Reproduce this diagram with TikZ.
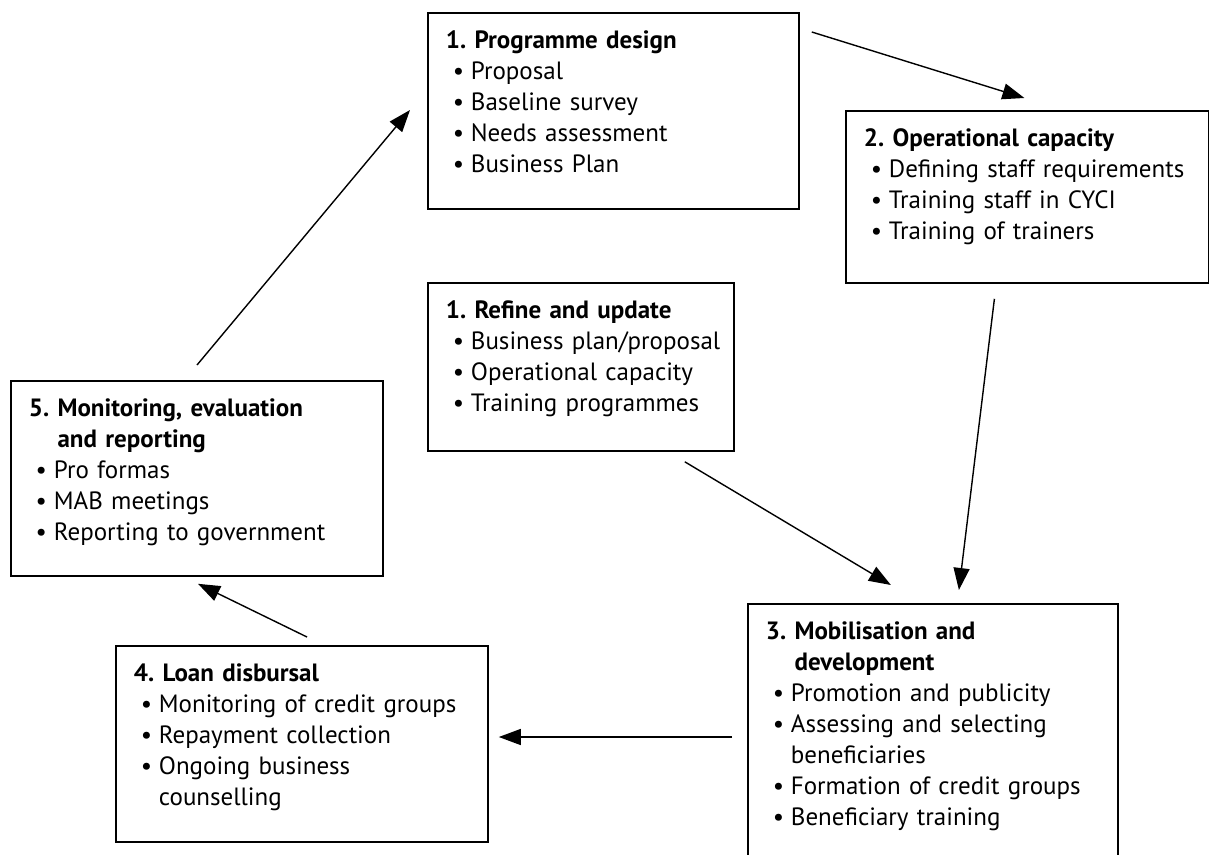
\documentclass[tikz,border=0pt]{standalone}
\usepackage{fontspec}
\setmainfont{PT Sans}
\usetikzlibrary{arrows.meta,calc}

\newcommand{\itm}[1]{\mbox{\makebox[25pt][c]{\textbullet}#1}}
\newcommand{\cont}[1]{\mbox{\hspace*{25pt}#1}}

\begin{document}
\begin{tikzpicture}[x=1pt,y=-1pt,
  box/.style={draw, line width=1.8pt, anchor=north west, align=left,
    inner xsep=18pt, inner ysep=0pt, text height=36pt,
    font=\fontsize{25}{31}\selectfont},
  flow/.style={line width=1.4pt, -{Triangle[length=22pt,width=16pt]}}]

\clip (0,0) rectangle (1209,854);

\node[box, text width=335pt, text depth=160pt] (design) at (427,12)
  {\textbf{1.\ Programme design}\\ \itm{Proposal}\\ \itm{Baseline survey}\\
   \itm{Needs assessment}\\ \itm{Business Plan}};

\node[box, text width=327pt, text depth=136pt] (capacity) at (845,110)
  {\textbf{2.\ Operational capacity}\\ \itm{Defining staff requirements}\\
   \itm{Training staff in CYCI}\\ \itm{Training of trainers}};

\node[box, text width=270pt, text depth=132pt] (refine) at (427,282)
  {\textbf{1.\ Refine and update}\\ \itm{Business plan/proposal}\\
   \itm{Operational capacity}\\ \itm{Training programmes}};

\node[box, text width=336pt, text depth=159pt] (monitor) at (10,380)
  {\textbf{5.\ Monitoring, evaluation}\\ \textbf{\phantom{5.\ }and reporting}\\
   \itm{Pro formas}\\ \itm{MAB meetings}\\ \itm{Reporting to government}};

\node[box, text width=336pt, text depth=160pt] (loan) at (115,645)
  {\textbf{4.\ Loan disbursal}\\ \itm{Monitoring of credit groups}\\
   \itm{Repayment collection}\\ \itm{Ongoing business}\\ \cont{counselling}};

\node[box, text width=334pt, text depth=231pt] (mobil) at (747,603)
  {\textbf{3.\ Mobilisation and}\\ \textbf{\phantom{3.\ }development}\\
   \itm{Promotion and publicity}\\ \itm{Assessing and selecting}\\
   \cont{beneficiaries}\\ \itm{Formation of credit groups}\\
   \itm{Beneficiary training}};

\draw[flow] ($(design.north east)+(12,20)$) -- ($(capacity.north)+(-3,-12)$);
\draw[flow] ($(capacity.south)+(-33,15)$) -- ($(mobil.north)+(26,-13)$);
\draw[flow] ($(refine.south east)+(-50,10)$) -- ($(mobil.north)+(-42,-18)$);
\draw[flow] ($(mobil.north west)+(-15,134)$) -- ($(loan.north east)+(10,92)$);
\draw[flow] ($(loan.north west)+(192,-8)$) -- ($(monitor.south west)+(188,7)$);
\draw[flow] ($(monitor.north west)+(187,-15)$) -- ($(design.north west)+(-17,98)$);

\end{tikzpicture}
\end{document}
